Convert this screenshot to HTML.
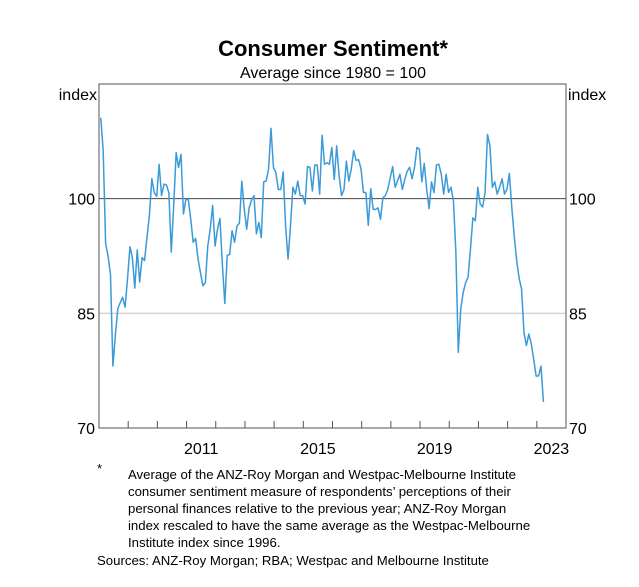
<!DOCTYPE html>
<html><head><meta charset="utf-8"><style>
html,body{margin:0;padding:0;background:#fff;}
body{width:639px;height:582px;overflow:hidden;font-family:"Liberation Sans",Arial,sans-serif;}
</style></head><body>
<svg id="chart" width="639" height="582" xmlns="http://www.w3.org/2000/svg" font-family="Liberation Sans, Arial, sans-serif">
<text x="333" y="56" text-anchor="middle" font-size="22" font-weight="bold">Consumer Sentiment*</text>
<text x="333" y="78" text-anchor="middle" font-size="16">Average since 1980 = 100</text>
<text x="97" y="100" text-anchor="end" font-size="16">index</text>
<text x="568" y="100" font-size="16">index</text>
<g id="grid"></g>
<g id="axes"></g>
<path id="line" fill="none" stroke="#3b9ad8" stroke-width="1.5" stroke-linejoin="round"/>
<rect x="99" y="84" width="467" height="344" fill="none" stroke="#555" stroke-width="1"/>
<g font-size="13.2">
<text x="97" y="473">*</text>
<text x="128" y="479">Average of the ANZ-Roy Morgan and Westpac-Melbourne Institute</text>
<text x="128" y="496">consumer sentiment measure of respondents’ perceptions of their</text>
<text x="128" y="513">personal finances relative to the previous year; ANZ-Roy Morgan</text>
<text x="128" y="530">index rescaled to have the same average as the Westpac-Melbourne</text>
<text x="128" y="547">Institute index since 1996.</text>
</g>
<text x="97" y="565" font-size="13.2">Sources: ANZ-Roy Morgan; RBA; Westpac and Melbourne Institute</text>
</svg>
<script>
const startYear = 2008.06;
const values = [110.6,106.3,94.1,92.5,90.1,78.1,82.1,85.6,86.4,87.1,85.8,89.5,93.7,92.3,88.3,93.3,89.1,92.3,91.9,94.9,97.8,102.6,100.8,100.3,104.5,100.4,101.9,101.8,100.8,93.0,99.2,106.0,104.1,105.8,98.0,99.9,99.9,97.3,94.3,94.8,92.1,90.3,88.6,89.0,93.8,96.0,99.1,93.8,96.0,97.4,91.4,86.3,92.6,92.7,95.8,94.3,96.4,96.8,102.3,98.6,96.0,98.8,99.8,100.4,95.4,96.9,94.9,102.2,102.3,103.9,109.2,104.1,103.4,101.2,101.2,103.5,96.4,92.1,96.4,101.5,100.6,102.3,100.4,100.4,99.3,104.2,104.1,101.0,104.4,104.4,100.6,108.3,104.5,104.7,104.5,106.7,102.5,106.9,103.0,100.4,101.2,104.9,102.3,103.9,106.3,105.0,105.1,103.9,100.8,100.8,96.5,101.3,98.6,98.6,98.8,97.3,100.1,100.4,101.2,102.7,104.2,101.5,102.3,103.2,101.2,102.5,103.6,104.1,102.6,104.1,106.7,106.5,102.2,104.6,101.2,98.7,102.2,100.8,104.4,104.5,103.2,100.6,103.2,100.8,101.5,99.7,93.0,79.9,85.6,87.7,89.0,89.7,93.4,97.5,97.1,101.5,99.3,98.9,100.8,108.4,106.9,101.5,102.2,100.6,101.5,102.6,100.6,101.2,103.3,98.8,95.1,91.9,89.6,88.2,82.5,80.8,82.3,81.0,79.0,76.8,76.8,78.1,73.4];
const yTicks = [70,85,100];
const xLabels = [2011,2015,2019,2023];
const xMin = 2008, xMax = 2024, yMin = 70, yMax = 115;
const L=99,R=566,T=84,B=428;
const xs = v => L + (v - xMin) / (xMax - xMin) * (R - L);
const ys = v => B - (v - yMin) / (yMax - yMin) * (B - T);
const NS = "http://www.w3.org/2000/svg";
const grid = document.getElementById('grid'), axes = document.getElementById('axes');
function mk(tag, attrs, parent, txt){const e=document.createElementNS(NS,tag);for(const k in attrs)e.setAttribute(k,attrs[k]);if(txt!==undefined)e.textContent=txt;parent.appendChild(e);return e;}
yTicks.forEach(t=>{
  if(t===100){const g=mk('line',{x1:L,x2:R,y1:ys(t),y2:ys(t),stroke:'#444','stroke-width':1},grid);
    
    }
  if(t===85){const g=mk('line',{x1:L,x2:R,y1:ys(t),y2:ys(t),stroke:'#d4d4d4','stroke-width':1.5},grid);
    
    }
  const a=mk('text',{x:L-4,y:ys(t)+6,'text-anchor':'end','font-size':16},axes,String(t));
  
  
  const b=mk('text',{x:R+3,y:ys(t)+6,'font-size':16},axes,String(t));
  
  
});
for(let y=xMin+1;y<xMax;y++){
  const tk=mk('line',{x1:xs(y),x2:xs(y),y1:B,y2:B-7,stroke:'#555','stroke-width':1},axes);
  
  
}
xLabels.forEach(y=>{
  const t=mk('text',{x:xs(y+0.5),y:B+26,'text-anchor':'middle','font-size':16},axes,String(y));
  
  
});
let d='';
values.forEach((v,i)=>{d+=(i?'L':'M')+xs(startYear+i/12).toFixed(2)+' '+ys(v).toFixed(2);});
document.getElementById('line').setAttribute('d',d);
</script>
</body></html>
